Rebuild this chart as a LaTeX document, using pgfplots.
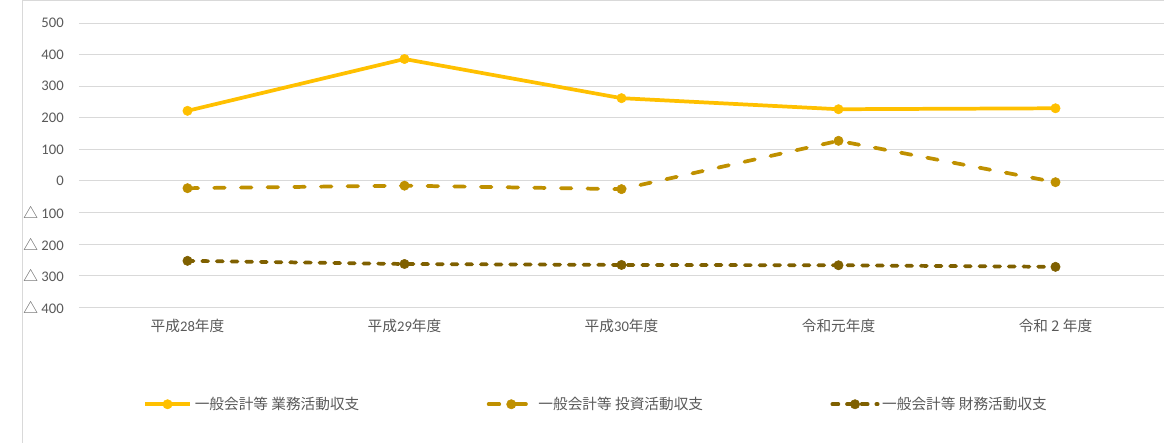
\documentclass[border=0pt]{standalone}
\usepackage{pgfplots}
\pgfplotsset{compat=1.18}
\usepackage{fontspec}
\setmainfont{Carlito}
\newfontfamily\jp{Noto Sans CJK JP}
\definecolor{gyomu}{HTML}{FFC000}
\definecolor{toshi}{HTML}{BF9000}
\definecolor{zaimu}{HTML}{7F6000}
\definecolor{labelgrey}{HTML}{595959}
\definecolor{gridgrey}{HTML}{D9D9D9}
\newcommand{\lab}[1]{\makebox[219pt][l]{\jp #1}}
\begin{document}
\begin{tikzpicture}
\useasboundingbox (-59.25pt,-101.25pt) rectangle (813.75pt,230.45pt);
\draw[gridgrey, line width=0.75pt] (-42pt,-110pt) -- (-42pt,230.05pt) -- (830pt,230.05pt);
\begin{axis}[
    at={(0pt,0pt)}, anchor=south west,
    scale only axis,
    width=813.75pt, height=213.2pt,
    xmin=-0.5, xmax=4.5,
    ymin=-400, ymax=500,
    ytick={-400,-300,...,500},
    yticklabels={{\jp △} 400,{\jp △} 300,{\jp △} 200,{\jp △} 100,0,100,200,300,400,500},
    xtick={0,1,2,3,4},
    xticklabels={{\jp 平成}28{\jp 年度},{\jp 平成}29{\jp 年度},{\jp 平成}30{\jp 年度},{\jp 令和元年度},{\jp 令和 2 年度}},
    axis line style={draw=none},
    tick style={draw=none},
    ymajorgrids,
    grid style={gridgrey, line width=0.75pt},
    tick label style={text=labelgrey, font=\fontsize{11}{13}\selectfont},
    yticklabel style={anchor=east, inner sep=0pt, xshift=-11.25pt},
    xticklabel style={anchor=north, inner sep=0pt, yshift=-9pt},
    clip=false,
    legend columns=3,
    legend style={at={(0.0590,-0.3412)}, anchor=west, draw=none, fill=none,
        inner sep=0pt, outer sep=0pt, nodes={inner sep=0pt},
        text=labelgrey, font=\fontsize{11}{13}\selectfont,
        /tikz/every odd column/.append style={column sep=2pt}},
    legend image code/.code={
        \draw[mark repeat=2, mark phase=2, #1] plot coordinates {(0pt,0pt) (17pt,0pt) (34pt,0pt)};
    },
]
\addplot[gyomu, line width=2.8pt, mark=*, mark size=3.5pt, mark options={solid, fill=gyomu, line width=0.4pt}]
    coordinates {(0,222) (1,386) (2,262) (3,227) (4,230)};
\addplot[toshi, line width=2.8pt, line cap=round, dash pattern=on 8pt off 12pt,
    mark=*, mark size=3.5pt, mark options={solid, fill=toshi, line width=0.4pt}]
    coordinates {(0,-23) (1,-15) (2,-26) (3,127) (4,-4)};
\addplot[zaimu, line width=2.8pt, line cap=round, dash pattern=on 4.5pt off 6.5pt,
    mark=*, mark size=3.5pt, mark options={solid, fill=zaimu, line width=0.4pt}]
    coordinates {(0,-253) (1,-263) (2,-266) (3,-267) (4,-272)};
\legend{\lab{一般会計等 業務活動収支},\lab{一般会計等 投資活動収支},\lab{一般会計等 財務活動収支}}
\end{axis}
\end{tikzpicture}
\end{document}
